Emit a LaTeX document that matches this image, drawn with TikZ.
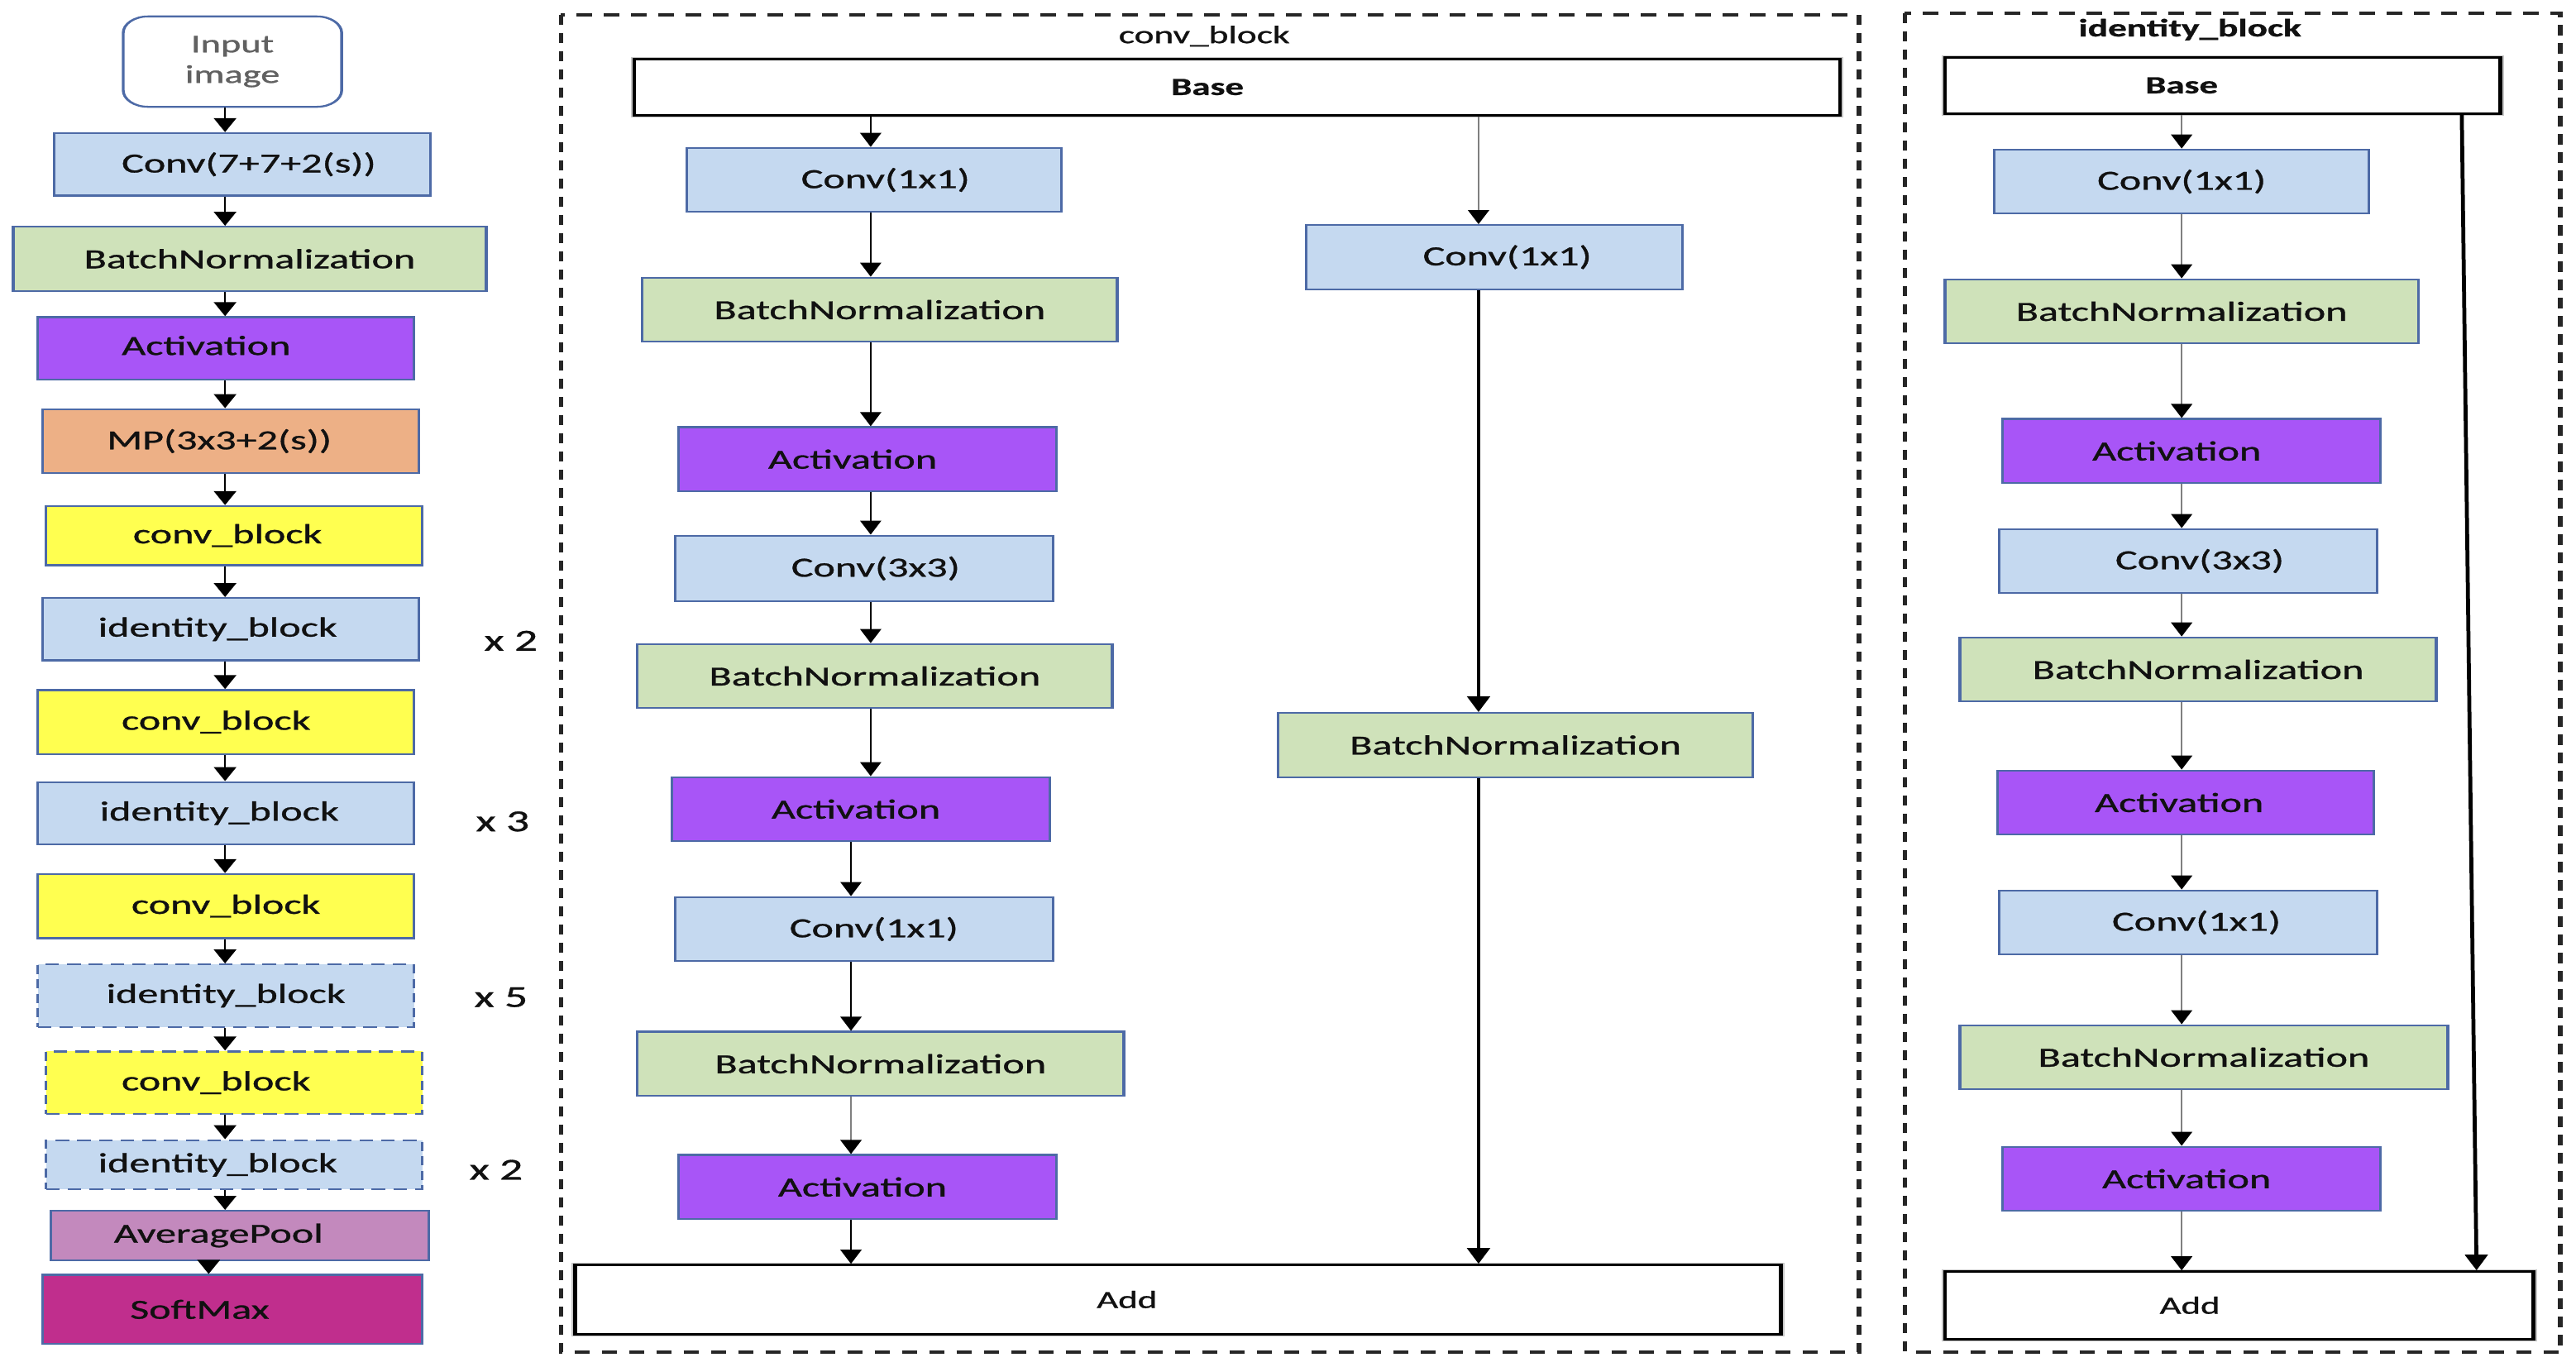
\documentclass[tikz,border=0pt]{standalone}
\usepackage{fontspec}
\setmainfont{Carlito}
\newfontfamily\bxfont[FakeBold=0.8]{Carlito}
\usetikzlibrary{arrows.meta}
\definecolor{bfill}{HTML}{C5D9F0}
\definecolor{gfill}{HTML}{CFE2BA}
\definecolor{pfill}{HTML}{A855F7}
\definecolor{ofill}{HTML}{EDB086}
\definecolor{yfill}{HTML}{FFFF50}
\definecolor{apfill}{HTML}{C389BD}
\definecolor{smfill}{HTML}{C02E8D}
\definecolor{bbord}{HTML}{4D6AA6}
\definecolor{txt}{HTML}{111111}
\tikzset{
  blk/.style={draw=bbord, line width=0.65pt, inner sep=0pt, text=txt,
    font=\bxfont\fontsize{9.5}{11}\selectfont},
  bluebox/.style={blk, fill=bfill},
  greenbox/.style={blk, fill=gfill},
  purplebox/.style={blk, fill=pfill},
  orangebox/.style={blk, fill=ofill},
  yellowbox/.style={blk, fill=yfill},
  apbox/.style={blk, fill=apfill},
  smbox/.style={blk, fill=smfill},
  dashedbox/.style={dash pattern=on 0.11cm off 0.065cm},
  whitebox/.style={draw=black, line width=0.85pt, fill=white, inner sep=0pt, text=txt,
    preaction={draw=black!22, line width=1.6pt},
    font=\bxfont\fontsize{8.5}{10}\selectfont},
  inbox/.style={draw=bbord, line width=0.65pt, fill=white, rounded corners=0.2cm,
    inner sep=0pt, align=center, text=black!62, font=\bxfont\fontsize{8.8}{10.5}\selectfont},
  panel/.style={draw=black!85, line width=1.05pt, dash pattern=on 0.125cm off 0.095cm},
  arrL/.style={-{Triangle[width=0.18cm,length=0.17cm]}, line width=0.5pt, draw=black},
  arrT/.style={-{Triangle[width=0.17cm,length=0.17cm]}, line width=0.32pt, draw=black},
  arrG/.style={-{Triangle[width=0.17cm,length=0.17cm,color=black]}, line width=0.4pt, draw=black!50},
  arrK/.style={-{Triangle[width=0.18cm,length=0.19cm]}, line width=0.9pt, draw=black},
  rep/.style={font=\bxfont\fontsize{10.5}{12}\selectfont, text=txt},
  ttl/.style={font=\bxfont\fontsize{8.6}{10}\selectfont, text=txt},
}
% name, style, x1, y1, x2, y2, text, text shift
\newcommand\mkbox[8]{%
  \pgfmathsetmacro\bw{(#5-#3)*0.013244}%
  \pgfmathsetmacro\bh{(#6-#4)*0.019866}%
  \pgfmathsetmacro\ka{max(#8,0)*0.026488}%
  \pgfmathsetmacro\kb{max(-(#8),0)*0.026488}%
  \node[#2, minimum width=\bw cm, minimum height=\bh cm] (#1) at ({(#3+#5)/2},{(#4+#6)/2}) {\kern\ka cm #7\kern\kb cm};}
\begin{document}
\begin{tikzpicture}[x=0.019866cm, y=-0.019866cm]
\useasboundingbox (0,0) rectangle (1568,831.6);
\fill[white] (0,0) rectangle (1568,831.6);
\begin{scope}[transform canvas={xscale=1.5}, x=0.013244cm, y=-0.019866cm]
% ---------------- left column ----------------
\mkbox{in}{inbox}{75}{10}{208}{65}{\raisebox{-2pt}{Input}\\\raisebox{-2pt}{image}}{0}
\mkbox{c1}{bluebox}{33}{81}{262}{119}{\raisebox{1pt}{Conv(7+7+2(s))}}{4}
\mkbox{bn1}{greenbox}{8}{138}{296}{177}{BatchNormalization}{0}
\mkbox{a1}{purplebox}{23}{193}{252}{231}{\raisebox{2pt}{Activation}}{-12}
\mkbox{mp}{orangebox}{26}{249}{255}{288}{\raisebox{1pt}{MP(3x3+2(s))}}{-7}
\mkbox{cb1}{yellowbox}{28}{308}{257}{344}{conv\_block}{-4}
\mkbox{ib1}{bluebox}{26}{364}{255}{402}{identity\_block}{-8}
\mkbox{cb2}{yellowbox}{23}{420}{252}{459}{conv\_block}{-6}
\mkbox{ib2}{bluebox}{23}{476}{252}{514}{identity\_block}{-4}
\mkbox{cb3}{yellowbox}{23}{532}{252}{571}{conv\_block}{0}
\mkbox{ib3}{bluebox,dashedbox}{23}{587}{252}{625}{identity\_block}{0}
\mkbox{cb4}{yellowbox,dashedbox}{28}{640}{257}{678}{conv\_block}{-11}
\mkbox{ib4}{bluebox,dashedbox}{28}{694}{257}{724}{identity\_block}{-10}
\mkbox{ap}{apbox}{31}{737}{261}{767}{AveragePool}{-13}
\mkbox{sm}{smbox}{26}{776}{257}{818}{SoftMax}{-20}
\node[rep] (r1) at (311,390) {x 2};
\node[rep] (r2) at (306,500) {x 3};
\node[rep] (r3) at (305,607) {x 5};
\node[rep] (r4) at (302,712) {x 2};
\coordinate (lx) at (137,0);
\coordinate (lx2) at (127,0);
\foreach \a/\b in {in/c1,c1/bn1,bn1/a1,a1/mp,mp/cb1,cb1/ib1,ib1/cb2,cb2/ib2,ib2/cb3,cb3/ib3,ib3/cb4,cb4/ib4,ib4/ap}
  \draw[arrL] (\a.south -| lx) -- (\b.north -| lx);
\draw[arrL] (ap.south -| lx2) -- (sm.north -| lx2);
% ---------------- conv_block panel ----------------
\draw[panel] (341.5,9) rectangle (1131.5,823);
\node[ttl] (t1) at (733,22) {conv\_block};
\mkbox{mbase}{whitebox}{386}{36}{1120}{70}{\bfseries Base}{-18}
\mkbox{mc1}{bluebox}{418}{90}{646}{129}{Conv(1x1)}{7}
\mkbox{mbn1}{greenbox}{391}{169}{680}{208}{BatchNormalization}{0}
\mkbox{ma1}{purplebox}{413}{260}{643}{299}{Activation}{-9}
\mkbox{mc2}{bluebox}{411}{326}{641}{366}{Conv(3x3)}{7}
\mkbox{mbn2}{greenbox}{388}{392}{677}{431}{BatchNormalization}{0}
\mkbox{ma2}{purplebox}{409}{473}{639}{512}{Activation}{-3}
\mkbox{mc3}{bluebox}{411}{546}{641}{585}{Conv(1x1)}{6}
\mkbox{mbn3}{greenbox}{388}{628}{684}{667}{BatchNormalization}{0}
\mkbox{ma3}{purplebox}{413}{703}{643}{742}{Activation}{-3}
\mkbox{madd}{whitebox}{350}{770}{1084}{812}{Add}{-31}
\mkbox{mrc}{bluebox}{795}{137}{1024}{176}{Conv(1x1)}{8}
\mkbox{mrbn}{greenbox}{778}{434}{1067}{473}{BatchNormalization}{0}
\coordinate (ma) at (530,0);
\coordinate (mb) at (518,0);
\coordinate (mr) at (900,0);
\foreach \a/\b in {mbase/mc1,mc1/mbn1,mbn1/ma1,ma1/mc2,mc2/mbn2,mbn2/ma2}
  \draw[arrT] (\a.south -| ma) -- (\b.north -| ma);
\foreach \a/\b in {ma2/mc3,mc3/mbn3,ma3/madd}
  \draw[arrT] (\a.south -| mb) -- (\b.north -| mb);
\draw[arrG] (mbn3.south -| mb) -- (ma3.north -| mb);
\draw[arrG] (mbase.south -| mr) -- (mrc.north -| mr);
\draw[arrK] (mrc.south -| mr) -- (mrbn.north -| mr);
\draw[arrK] (mrbn.south -| mr) -- (madd.north -| mr);
% ---------------- identity_block panel ----------------
\draw[panel] (1159.5,8) rectangle (1558.5,823);
\node[ttl, font=\bxfont\bfseries\fontsize{8.6}{10}\selectfont] (t2) at (1333,18) {identity\_block};
\mkbox{rbase}{whitebox}{1184}{35}{1522}{69}{\bfseries Base}{-25}
\mkbox{rc1}{bluebox}{1214}{91}{1442}{130}{Conv(1x1)}{0}
\mkbox{rbn1}{greenbox}{1184}{170}{1472}{209}{BatchNormalization}{0}
\mkbox{ra1}{purplebox}{1219}{255}{1449}{294}{Activation}{-9}
\mkbox{rc2}{bluebox}{1217}{322}{1447}{361}{Conv(3x3)}{7}
\mkbox{rbn2}{greenbox}{1193}{388}{1483}{427}{BatchNormalization}{0}
\mkbox{ra2}{purplebox}{1216}{469}{1445}{508}{Activation}{-4}
\mkbox{rc3}{bluebox}{1217}{542}{1447}{581}{Conv(1x1)}{5}
\mkbox{rbn3}{greenbox}{1193}{624}{1490}{663}{BatchNormalization}{0}
\mkbox{ra3}{purplebox}{1219}{698}{1449}{737}{Activation}{-3}
\mkbox{radd}{whitebox}{1184}{774}{1542}{815}{Add}{-30}
\coordinate (rx) at (1328,0);
\foreach \a/\b in {rbase/rc1,rc1/rbn1,rbn1/ra1,ra1/rc2,rc2/rbn2,rbn2/ra2,ra2/rc3,rc3/rbn3,rbn3/ra3,ra3/radd}
  \draw[arrG] (\a.south -| rx) -- (\b.north -| rx);
\coordinate (sa) at (1498.5,0);
\coordinate (sb) at (1507.5,0);
\draw[arrK] (rbase.south -| sa) -- (radd.north -| sb);
\end{scope}
\end{tikzpicture}
\end{document}
